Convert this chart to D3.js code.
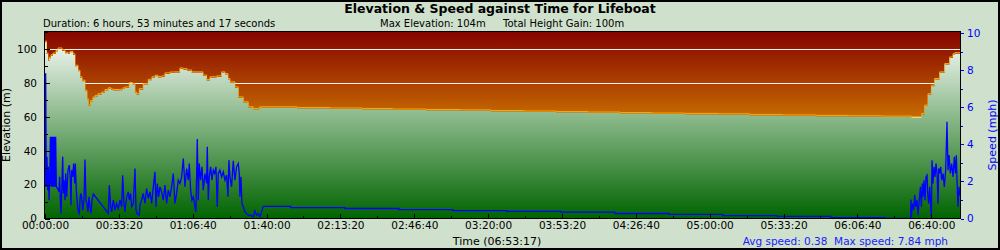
<!DOCTYPE html>
<html>
<head>
<meta charset="utf-8">
<script src="https://cdn.jsdelivr.net/npm/d3@7"></script>
<style>
  body { margin: 0; background: #cfe0cc; }
  svg { display: block; font-family: "DejaVu Sans", Verdana, sans-serif; }
</style>
</head>
<body>
<svg width="1000" height="250"></svg>
<script>
// ---- data ----
var totalSeconds = 24797;   // 06:53:17

// elevation in metres, time in seconds from start
var elevTime = [0, 41, 81, 122, 162, 217, 298, 352, 460, 541, 623, 677, 758, 812, 893, 947, 1002, 1083, 1137, 1172,
  1237, 1299, 1354, 1435, 1535, 1624, 1714, 1787, 1849, 2030, 2111, 2166, 2282, 2374, 2436, 2482, 2553, 2661, 2796, 2896,
  2978, 3059, 3159, 3248, 3384, 3519, 3654, 3744, 3844, 3971, 4196, 4277, 4377, 4467, 4648, 4783, 4873, 4954, 5008, 5143,
  5233, 5368, 5503, 5639, 5766, 5820, 6822, 7715, 8581, 9420, 10314, 11234, 12073, 12966, 13833, 14699, 15565, 16431, 17325, 18218,
  19084, 19978, 20871, 21764, 22658, 23470, 23705, 23740, 23822, 23911, 24003, 24092, 24228, 24363, 24498, 24588, 24634, 24797];
var elevMetres = [104, 97, 93, 94.5, 96, 97, 98.5, 100, 99, 97.5, 97, 98, 96.5, 89.8, 86.8, 83, 81, 75, 70, 66.3,
  69, 71, 72, 73, 74, 75.5, 76.5, 75.8, 75.5, 75.6, 76.5, 77, 79.6, 79, 74, 73, 76, 79, 81.5, 83,
  83.9, 83.2, 83.5, 85.3, 85.8, 85.9, 88.2, 87.8, 87, 85.9, 85.9, 84, 81.4, 83, 83.5, 85.9, 84.9, 82, 80, 77,
  71.1, 68.2, 65.3, 64.3, 64.5, 65.3, 64.9, 64.6, 64.3, 64.0, 63.7, 63.5, 63.1, 62.8, 62.5, 62.2, 61.9, 61.6, 61.4, 61.2,
  60.8, 60.5, 60.2, 60.0, 59.8, 59.4, 59.4, 61.4, 66.3, 73, 78, 82, 85.9, 90.8, 94.7, 96.6, 97.2, 97.2];

// speed in mph
var speedTime = [0, 18, 36, 54, 72, 90, 109, 127, 145, 163, 181, 199, 217, 235, 253, 271, 289, 307, 343, 379,
  397, 415, 433, 460, 479, 497, 515, 542, 560, 587, 623, 659, 686, 704, 722, 749, 776, 803, 821, 848,
  876, 903, 930, 948, 966, 993, 1020, 1056, 1083, 1110, 1137, 1164, 1191, 1218, 1245, 1273, 1309, 1715, 1742, 1778,
  1805, 1850, 1895, 1940, 1985, 2031, 2076, 2103, 2139, 2166, 2211, 2256, 2283, 2319, 2346, 2392, 2437, 2464, 2500, 2554,
  2572, 2617, 2662, 2707, 2752, 2797, 2843, 2888, 2933, 2978, 3005, 3041, 3077, 3113, 3158, 3204, 3249, 3294, 3339, 3384,
  3429, 3474, 3519, 3564, 3609, 3655, 3700, 3745, 3790, 3835, 3880, 3907, 3943, 3979, 4016, 4061, 4088, 4124, 4151, 4178,
  4214, 4250, 4286, 4332, 4377, 4395, 4422, 4449, 4485, 4521, 4557, 4593, 4629, 4665, 4692, 4737, 4782, 4828, 4873, 4918,
  4954, 4981, 5008, 5053, 5098, 5143, 5188, 5234, 5261, 5279, 5306, 5333, 5369, 5414, 5459, 5504, 5550, 5640, 5685, 5730,
  5775, 5820, 5910, 6651, 6651, 8121, 8121, 9583, 9583, 11045, 11045, 12506, 12506, 13968, 13968, 15430, 15430, 16892, 16892, 18353,
  18353, 19815, 19815, 21277, 21277, 22739, 22739, 23443, 23452, 23461, 23488, 23524, 23551, 23578, 23614, 23641, 23668, 23705, 23732, 23759,
  23777, 23804, 23831, 23858, 23885, 23903, 23930, 23957, 23984, 24002, 24020, 24047, 24074, 24102, 24129, 24156, 24183, 24201, 24228, 24255,
  24282, 24318, 24354, 24390, 24426, 24454, 24481, 24517, 24553, 24589, 24625, 24652, 24679, 24697, 24724, 24751, 24769, 24797];
var speedMph = [1.71, 7.84, 1.71, 3.33, 1.53, 2.79, 0.99, 2.07, 4.41, 1.71, 4.41, 1.71, 4.41, 1.71, 4.41, 1.71, 4.41, 1.71, 1.62, 1.44,
  2.25, 0.99, 0.27, 1.89, 3.33, 1.35, 2.07, 0.99, 2.43, 1.17, 2.61, 2.88, 2.07, 0.72, 2.61, 2.25, 2.97, 1.89, 2.97, 1.53,
  0.81, 0.36, 0.27, 0.99, 1.35, 1.17, 0.45, 0.99, 3.19, 0.99, 0.81, 0.36, 1.17, 0.63, 0.27, 0.99, 1.32, 0.27, 1.80, 0.63,
  0.36, 0.99, 0.45, 0.81, 0.54, 0.99, 0.63, 2.34, 0.81, 0.36, 1.17, 1.44, 0.99, 1.35, 0.63, 0.81, 2.70, 0.45, 0.24, 0.18,
  0.72, 0.99, 1.35, 0.81, 1.62, 1.08, 1.44, 0.81, 1.71, 2.52, 0.63, 1.89, 1.17, 1.71, 1.44, 0.99, 1.80, 0.81, 1.53, 1.17,
  1.71, 2.43, 0.81, 1.35, 2.07, 1.89, 2.25, 3.24, 1.71, 2.70, 2.07, 2.97, 1.53, 0.99, 1.17, 0.63, 0.36, 4.29, 0.99, 2.97,
  2.07, 2.79, 1.53, 2.43, 1.89, 3.87, 0.99, 2.25, 2.79, 2.07, 2.61, 2.43, 2.79, 0.63, 2.43, 2.61, 2.25, 2.52, 2.07, 2.34,
  1.17, 3.15, 2.25, 1.71, 3.12, 2.07, 2.79, 2.97, 2.43, 1.17, 2.25, 0.81, 0.63, 0.36, 0.27, 0.18, 0.18, 0.09, 0.41, 0.18,
  0.27, 0.09, 0.66, 0.66, 0.59, 0.59, 0.54, 0.54, 0.48, 0.48, 0.43, 0.43, 0.39, 0.39, 0.34, 0.34, 0.27, 0.27, 0.22, 0.22,
  0.16, 0.16, 0.11, 0.11, 0.05, 0.05, 0, 0, 1.03, 0.09, 0.81, 0.45, 1.26, 0.63, 0.99, 0.18, 0.81, 1.71, 0.63, 1.89,
  1.17, 2.07, 0.99, 2.25, 2.34, 1.35, 0.81, 1.71, 0.63, 0.09, 3.15, 1.89, 2.79, 2.25, 2.97, 2.43, 0.81, 2.70, 2.43, 2.79,
  2.07, 2.43, 1.71, 2.61, 5.22, 2.61, 3.42, 2.43, 2.97, 2.25, 3.33, 2.43, 3.42, 2.07, 0.63, 1.71, 1.35, 1.2];

var timeTickLabels = ["00:00:00", "00:33:20", "01:06:40", "01:40:00", "02:13:20", "02:46:40", "03:20:00",
  "03:53:20", "04:26:40", "05:00:00", "05:33:20", "06:06:40", "06:40:00"];
var elevTicks = [0, 20, 40, 60, 80, 100];
var speedTicks = [0, 2, 4, 6, 8, 10];

var titleText = "Elevation & Speed against Time for Lifeboat";
var durationText = "Duration: 6 hours, 53 minutes and 17 seconds";
var maxElevText = "Max Elevation: 104m";
var gainText = "Total Height Gain: 100m";
var xTitleText = "Time (06:53:17)";
var speedSummaryText = "Avg speed: 0.38  Max speed: 7.84 mph";

// ---- layout ----
var svg = d3.select("svg"),
    width = +svg.attr("width"),
    height = +svg.attr("height");
var pLeft = 45, pRight = 960, pTop = 32, pBottom = 218.5;

function toSeconds(s) {
  var p = s.split(":").map(Number);
  return p[0] * 3600 + p[1] * 60 + p[2];
}

var x = d3.scaleLinear().domain([0, totalSeconds]).range([pLeft, 960.7]);
var yElev = d3.scaleLinear().domain([0, 110]).range([pBottom, pTop]);
var ySpeed = d3.scaleLinear().domain([0, 10]).range([pBottom, 33.3]);

var elevData = elevTime.map(function(t, i) { return {t: t, v: elevMetres[i]}; });
var speedData = speedTime.map(function(t, i) { return {t: t, v: speedMph[i]}; });

var defs = svg.append("defs");
var sky = defs.append("linearGradient").attr("id", "sky")
  .attr("gradientUnits", "userSpaceOnUse").attr("x1", 0).attr("x2", 0).attr("y1", pTop).attr("y2", pBottom);
sky.append("stop").attr("offset", 0).attr("stop-color", "#860400");
sky.append("stop").attr("offset", 0.5).attr("stop-color", "#cc7400");
sky.append("stop").attr("offset", 1).attr("stop-color", "#ffb000");

var land = defs.append("linearGradient").attr("id", "land")
  .attr("gradientUnits", "userSpaceOnUse").attr("x1", 0).attr("x2", 0).attr("y1", pTop).attr("y2", pBottom);
land.append("stop").attr("offset", 0).attr("stop-color", "#ffffff");
land.append("stop").attr("offset", 1).attr("stop-color", "#006400");

defs.append("clipPath").attr("id", "plot")
  .append("rect").attr("x", pLeft).attr("y", pTop).attr("width", pRight - pLeft + 1).attr("height", pBottom - pTop);

// outer border
svg.append("rect").attr("x", 1).attr("y", 1).attr("width", width - 2).attr("height", height - 2)
  .attr("fill", "#cfe0cc").attr("stroke", "#000").attr("stroke-width", 2);

// plot background
svg.append("rect").attr("x", pLeft).attr("y", pTop).attr("width", pRight - pLeft + 1).attr("height", pBottom - pTop)
  .attr("fill", "url(#sky)");

var g = svg.append("g").attr("clip-path", "url(#plot)");

// horizontal grid lines
g.selectAll(".grid").data(elevTicks.slice(1)).enter().append("line")
  .attr("x1", pLeft).attr("x2", pRight)
  .attr("y1", function(d) { return Math.round(yElev(d)) + 0.5; })
  .attr("y2", function(d) { return Math.round(yElev(d)) + 0.5; })
  .attr("stroke", "#fff4ec").attr("stroke-width", 1);

// elevation
g.append("path").datum(elevData)
  .attr("d", d3.line().x(function(d) { return x(d.t); }).y(function(d) { return yElev(d.v) - 1; }).curve(d3.curveStepAfter))
  .attr("fill", "none").attr("stroke", "#ffa800").attr("stroke-width", 1);
g.append("path").datum(elevData)
  .attr("d", d3.area().x(function(d) { return x(d.t); }).y0(pBottom).y1(function(d) { return yElev(d.v); }).curve(d3.curveStepAfter))
  .attr("fill", "url(#land)");

// speed
g.append("path").datum(speedData)
  .attr("d", d3.line().x(function(d) { return x(d.t); }).y(function(d) { return ySpeed(d.v); }))
  .attr("fill", "none").attr("stroke", "#0000ff").attr("stroke-width", 1.3);

// frame
svg.append("rect").attr("x", pLeft - 0.5).attr("y", pTop - 0.5).attr("width", pRight - pLeft + 1).attr("height", pBottom - pTop + 0.5)
  .attr("fill", "none").attr("stroke", "#000").attr("stroke-width", 1);

// x axis
var xMajor = timeTickLabels.map(toSeconds);
var xMinor = xMajor.map(function(t) { return t + 1000; }).filter(function(t) { return t < totalSeconds; });
svg.append("g").attr("transform", "translate(0," + pBottom + ")")
  .call(d3.axisBottom(x).tickValues(xMajor).tickSize(-5).tickPadding(3.5)
    .tickFormat(function(d, i) { return timeTickLabels[i]; }));
svg.append("g").attr("transform", "translate(0," + pBottom + ")")
  .call(d3.axisBottom(x).tickValues(xMinor).tickSize(-3).tickFormat(""));

// left axis
svg.append("g").attr("transform", "translate(" + pLeft + ",0)")
  .call(d3.axisLeft(yElev).tickValues(elevTicks).tickSize(-5).tickPadding(8));
svg.append("g").attr("transform", "translate(" + pLeft + ",0)")
  .call(d3.axisLeft(yElev).tickValues(elevTicks.map(function(d) { return d + 10; })).tickSize(-3).tickFormat(""));

// right axis
var rAxis = svg.append("g").attr("transform", "translate(" + (pRight + 1) + ",0)")
  .call(d3.axisRight(ySpeed).tickValues(speedTicks).tickSize(3).tickPadding(3));
var rMinor = svg.append("g").attr("transform", "translate(" + (pRight + 1) + ",0)")
  .call(d3.axisRight(ySpeed).tickValues(speedTicks.slice(1).map(function(d) { return d - 1; })).tickSize(2).tickFormat(""));

svg.selectAll(".domain").remove();
svg.selectAll(".tick text").attr("font-family", "DejaVu Sans").attr("font-size", "10.5px").attr("fill", "#000");
rAxis.selectAll("line").attr("stroke", "#0000ff");
rMinor.selectAll("line").attr("stroke", "#0000ff");
rAxis.selectAll("text").attr("fill", "#0000ff");
svg.selectAll("g.tick line").attr("shape-rendering", "crispEdges");

// titles
svg.append("text").attr("x", 500).attr("y", 12.5).attr("text-anchor", "middle")
  .attr("font-size", "12.5px").attr("font-weight", "bold").text(titleText);
svg.append("text").attr("x", 43).attr("y", 27).attr("font-size", "10px").text(durationText);
svg.append("text").attr("x", 380).attr("y", 27).attr("font-size", "10px").text(maxElevText);
svg.append("text").attr("x", 503).attr("y", 27).attr("font-size", "10px").text(gainText);

svg.append("text").attr("x", 497).attr("y", 245).attr("text-anchor", "middle")
  .attr("font-size", "11px").text(xTitleText);
svg.append("text").attr("x", 948).attr("y", 245).attr("text-anchor", "end")
  .attr("font-size", "10.5px").attr("fill", "#1a1aff").attr("xml:space", "preserve").text(speedSummaryText);

svg.append("text").attr("transform", "translate(10,125) rotate(-90)").attr("text-anchor", "middle")
  .attr("font-size", "11px").text("Elevation (m)");
svg.append("text").attr("transform", "translate(996,135) rotate(-90)").attr("text-anchor", "middle")
  .attr("font-size", "11px").attr("fill", "#0000ff").text("Speed (mph)");
</script>
</body>
</html>
